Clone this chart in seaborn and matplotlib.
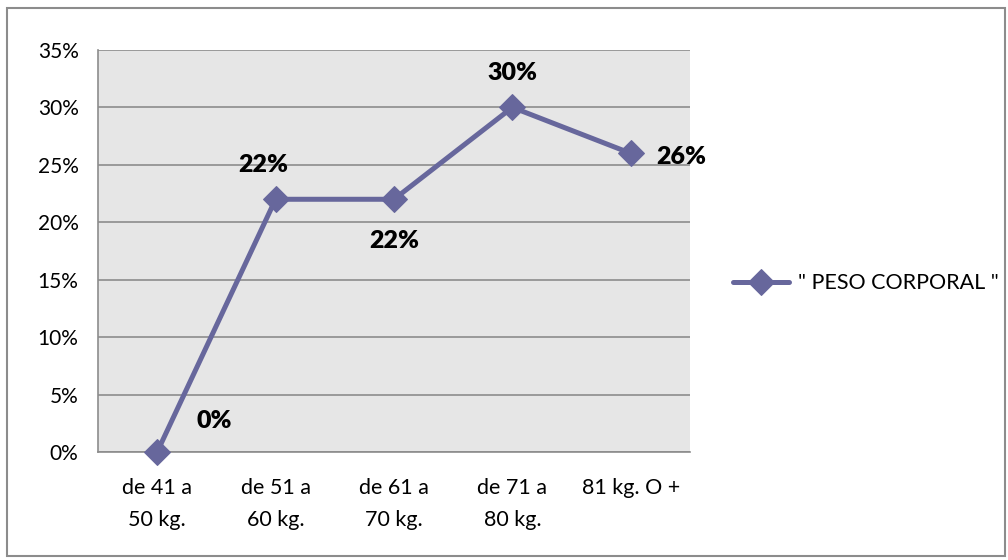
import pandas as pd
import matplotlib.pyplot as plt
import matplotlib.patches as mpatches
import seaborn as sns

# data
categorias = ["de 41 a\n50 kg.", "de 51 a\n60 kg.", "de 61 a\n70 kg.", "de 71 a\n80 kg.", "81 kg. O +"]
porcentajes = [0, 22, 22, 30, 26]
serie = '" PESO CORPORAL "'

# label offsets (points) for the data labels
offsets = [(41, 22), (-9, 25), (0, -30), (0, 25), (36, -3)]

sns.set_style("white")
plt.rcParams["font.family"] = ["Lato", "DejaVu Sans"]
plt.rcParams["text.color"] = "black"
plt.rcParams["xtick.labelcolor"] = "black"
plt.rcParams["ytick.labelcolor"] = "black"

color = "#67679c"

fig = plt.figure(figsize=(10.08, 5.6), dpi=100)
ax = fig.add_axes([0.0972, 0.1929, 0.5873, 0.7179])
ax.set_facecolor("#e6e6e6")

df = pd.DataFrame({"x": range(len(categorias)), "y": porcentajes})
sns.lineplot(data=df, x="x", y="y", ax=ax, color=color, linewidth=3.6,
             marker="D", markersize=13, markeredgecolor=color, label=serie,
             clip_on=False, zorder=5)

for i, v in enumerate(porcentajes):
    ax.annotate(f"{v}%", (i, v), xytext=offsets[i], textcoords="offset points",
                ha="center", va="center", fontsize=18, fontweight="heavy", color="black")

ax.set_xlim(-0.5, 4.5)
ax.set_ylim(0, 35)
ax.set_yticks(range(0, 36, 5))
ax.set_yticklabels([f"{t}%" for t in range(0, 36, 5)])
ax.set_xticks([i - 0.5 for i in range(6)])
ax.set_xticklabels([])
ax.set_xticks(range(5), minor=True)
ax.set_xticklabels(categorias, minor=True, linespacing=1.75)
ax.tick_params(axis="x", which="minor", length=0, pad=19, labelsize=15.5)
ax.tick_params(axis="x", which="major", length=8, color="#8c8c8c", direction="out")
ax.tick_params(axis="y", length=8, color="#8c8c8c", direction="out", labelsize=15, pad=6)
ax.grid(axis="y", color="#8c8c8c", linewidth=1.2)
ax.set_axisbelow(True)
ax.set_xlabel("")
ax.set_ylabel("")

for s in ["top", "right"]:
    ax.spines[s].set_visible(False)
for s in ["left", "bottom"]:
    ax.spines[s].set_color("#8c8c8c")
    ax.spines[s].set_linewidth(1.2)

leg = ax.legend(loc="center left", bbox_to_anchor=(1.04, 0.42), frameon=False,
                fontsize=15.5, handlelength=2.6, handletextpad=0.4)
for t in leg.get_texts():
    t.set_color("black")

# outer chart border
fig.patches.append(mpatches.Rectangle((0.007, 0.007), 0.99, 0.978, transform=fig.transFigure,
                                      fill=False, edgecolor="#8c8c8c", linewidth=1.5))

fig.savefig("out.png", dpi=100)
